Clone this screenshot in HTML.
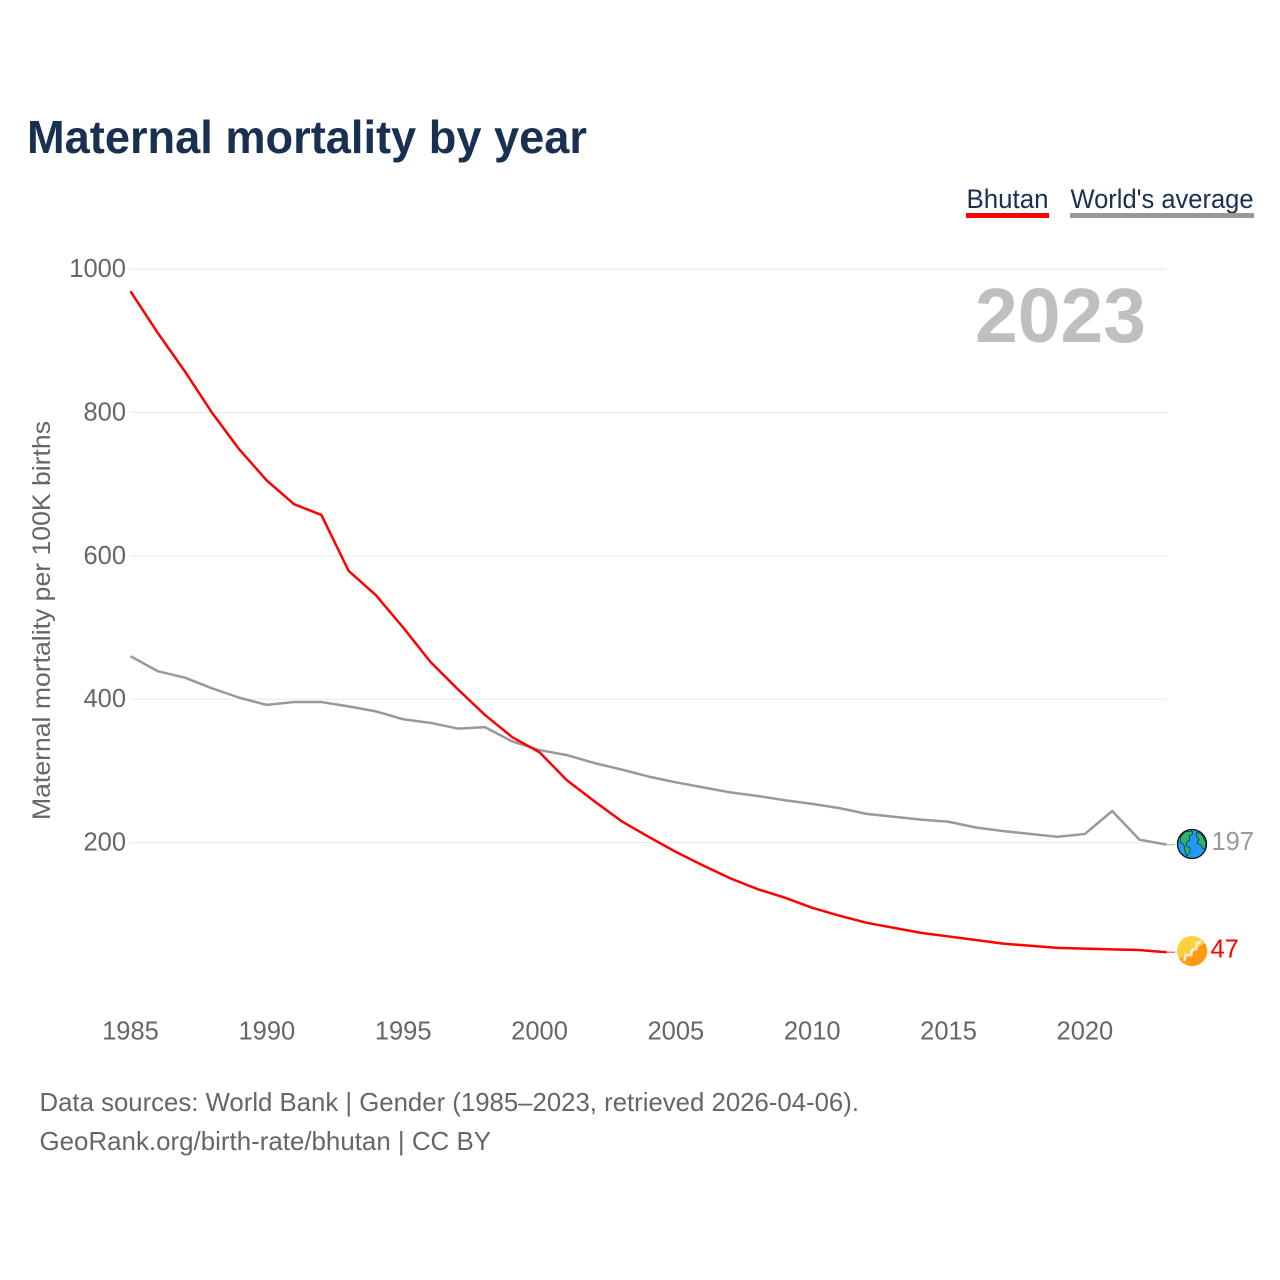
<!DOCTYPE html>
<html lang="en">
<head>
<meta charset="utf-8">
<title>Maternal mortality by year</title>
<style>
html,body{margin:0;padding:0;background:#fff;width:1280px;height:1280px;overflow:hidden}
svg{display:block;font-family:"Liberation Sans",sans-serif}
</style>
</head>
<body>
<svg id="chart" xmlns="http://www.w3.org/2000/svg" width="1280" height="1280" viewBox="0 0 1280 1280">
  <rect x="0" y="0" width="1280" height="1280" fill="#fff"/>
  <text x="27" y="153" font-size="46" font-weight="700" fill="#1a3050" textLength="560" lengthAdjust="spacingAndGlyphs">Maternal mortality by year</text>

  <g>
    <g>
      <text x="966.500" y="208" font-size="27" fill="#1a3050" textLength="82" lengthAdjust="spacingAndGlyphs">Bhutan</text>
      <rect x="966" y="213" width="83" height="5" fill="#ff0000"/>
    </g>
    <g>
      <text x="1070.500" y="208" font-size="27" fill="#1a3050" textLength="183" lengthAdjust="spacingAndGlyphs">World's average</text>
      <rect x="1070" y="213" width="184" height="5" fill="#999999"/>
    </g>
  </g>

  <text transform="translate(50,820) rotate(-90)" x="0" y="0" font-size="25" fill="#666666" textLength="399" lengthAdjust="spacingAndGlyphs">Maternal mortality per 100K births</text>

  <g id="grid"></g>
  <g id="yticks"></g>
  <g id="xticks"></g>

  <text x="975" y="342" font-size="77" font-weight="700" fill="#bfbfbf" textLength="171" lengthAdjust="spacingAndGlyphs">2023</text>

  <g id="series"></g>

  <g>
    <circle cx="1192" cy="844" r="14.500" fill="#1e9cf5" stroke="#111" stroke-width="1.300"/>
    <path d="M1181 836 L1185 832 L1192 831 L1193 834 L1189 836 L1190 840 L1187 842 L1186 846 L1190 848 L1190 852 L1187 856 L1185 851 L1184 845 L1180 842 Z" fill="#2fb36b" stroke="#111" stroke-width=".6"/>
    <path d="M1197 832 L1202 835 L1206 843 L1205 849 L1203 849 L1201 845 L1197 843 L1199 839 L1196 836 Z" fill="#2fb36b" stroke="#111" stroke-width=".6"/>
  </g>
  <g>
    <circle cx="1192" cy="951" r="15" fill="#fcd23c"/>
    <path d="M1205 943 A15 15 0 0 1 1179.300 959 Z" fill="#ff9a12"/>
    <path d="M1184 961 L1186 955 L1191 955 L1192 950 L1196 949 L1197 943 L1201 942" fill="none" stroke="#f3ecd8" stroke-width="2.800"/>
  </g>

  <text x="1211.500" y="850" font-size="25.500" fill="#999999">197</text>
  <text x="1210.500" y="957.500" font-size="25.500" fill="#ff0000">47</text>

  <g>
    <text x="39.500" y="1111" font-size="26" fill="#666666" textLength="819.500" lengthAdjust="spacingAndGlyphs">Data sources: World Bank | Gender (1985–2023, retrieved 2026-04-06).</text>
    <text x="39.500" y="1150" font-size="26" fill="#666666" textLength="451.500" lengthAdjust="spacingAndGlyphs">GeoRank.org/birth-rate/bhutan | CC BY</text>
  </g>
</svg>
<script>
const years = [1985,1986,1987,1988,1989,1990,1991,1992,1993,1994,1995,1996,1997,1998,1999,2000,2001,2002,2003,2004,2005,2006,2007,2008,2009,2010,2011,2012,2013,2014,2015,2016,2017,2018,2019,2020,2021,2022,2023];
const bhutanValues = [969,911,857,799,748,705,672,657,579,545,500,452,414,378,347,326,287,258,230,208,187,168,150,135,123,109,98,88,81,74,69,64,59,56,53,52,51,50,47];
const worldValues = [460,439,430,415,402,392,396,396,390,383,372,367,359,361,341,329,322,311,302,292,284,277,270,265,259,254,248,240,236,232,229,221,216,212,208,212,244,204,197];
const yTickValues = [200,400,600,800,1000];
const xTickValues = [1985,1990,1995,2000,2005,2010,2015,2020];

const NS = 'http://www.w3.org/2000/svg';
function xScale(year){ return 130.5 + (year - 1985) * (1166.7 - 130.5) / 38; }
function yScale(value){ return 985.9 - value * 0.7168; }
function make(tag, attrs, parent){
  const el = document.createElementNS(NS, tag);
  for (const k in attrs) el.setAttribute(k, attrs[k]);
  parent.appendChild(el);
  return el;
}

const grid = document.getElementById('grid');
const yticks = document.getElementById('yticks');
const xticks = document.getElementById('xticks');
const series = document.getElementById('series');

yTickValues.forEach(function(v){
  const line = make('line', {x1:130, x2:1167, y1:yScale(v), y2:yScale(v), stroke:'#ebebeb', 'stroke-width':1.2}, grid);
  
  
  const label = make('text', {x:126, y:yScale(v) + 8, 'font-size':25.5, fill:'#666666', 'text-anchor':'end'}, yticks);
  
  
  label.textContent = String(v);
});

xTickValues.forEach(function(y){
  const label = make('text', {x:xScale(y), y:1039.5, 'font-size':25.5, fill:'#666666', 'text-anchor':'middle'}, xticks);
  
  
  label.textContent = String(y);
});

function linePath(values){
  return values.map(function(v, i){
    return (i ? 'L' : 'M') + xScale(years[i]).toFixed(2) + ' ' + yScale(v).toFixed(2);
  }).join(' ');
}

const worldLine = make('path', {d:linePath(worldValues), fill:'none', stroke:'#999999', 'stroke-width':2.5, 'stroke-linejoin':'round'}, series);



const bhutanLine = make('path', {d:linePath(bhutanValues), fill:'none', stroke:'#ff0000', 'stroke-width':2.5, 'stroke-linejoin':'round'}, series);



const lastIndex = years.length - 1;
const worldConnector = make('line', {x1:xScale(years[lastIndex]), x2:1175, y1:yScale(worldValues[lastIndex]), y2:yScale(worldValues[lastIndex]), stroke:'#bbbbbb', 'stroke-width':1.2}, series);



const bhutanConnector = make('line', {x1:xScale(years[lastIndex]), x2:1175, y1:yScale(bhutanValues[lastIndex]), y2:yScale(bhutanValues[lastIndex]), stroke:'#ff5555', 'stroke-width':1.2}, series);


</script>
</body>
</html>
